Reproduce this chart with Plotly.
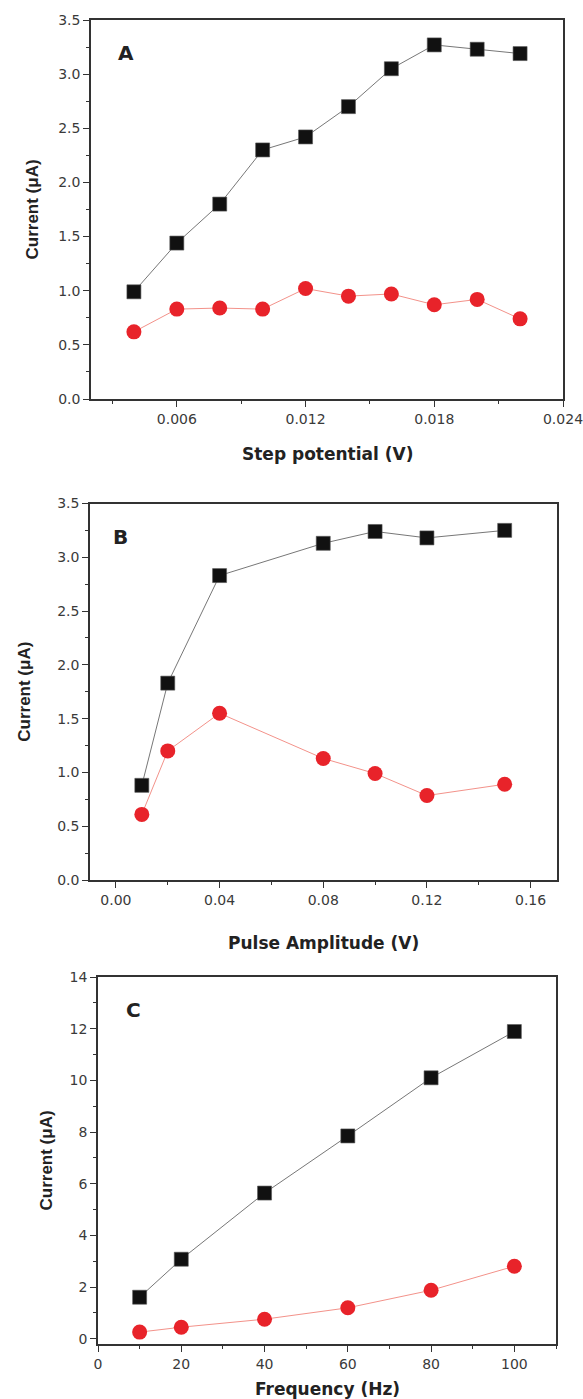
import plotly.graph_objects as go

W, H = 583, 1399

# Panel A: step potential
step_v = [0.004, 0.006, 0.008, 0.010, 0.012, 0.014, 0.016, 0.018, 0.020, 0.022]
step_black = [0.99, 1.44, 1.80, 2.30, 2.42, 2.70, 3.05, 3.27, 3.23, 3.19]
step_red = [0.62, 0.83, 0.84, 0.83, 1.02, 0.95, 0.97, 0.87, 0.92, 0.74]

# Panel B: pulse amplitude
amp_v = [0.01, 0.02, 0.04, 0.08, 0.10, 0.12, 0.15]
amp_black = [0.88, 1.83, 2.83, 3.13, 3.24, 3.18, 3.25]
amp_red = [0.61, 1.20, 1.55, 1.13, 0.99, 0.785, 0.89]

# Panel C: frequency
freq_hz = [10, 20, 40, 60, 80, 100]
freq_black = [1.61, 3.08, 5.64, 7.85, 10.10, 11.89]
freq_red = [0.26, 0.45, 0.76, 1.20, 1.88, 2.81]

panel_labels = ["A", "B", "C"]
x_titles = ["Step potential (V)", "Pulse Amplitude (V)", "Frequency (Hz)"]
y_title = "Current (\u03bcA)"

FONT = "Arial, Liberation Sans, Helvetica, sans-serif"
WIDEFONT = "DejaVu Sans, Verdana, sans-serif"
AX = "#333333"
TXT = "#3a3a3a"

# pixel boxes: (left, right, top, bottom)
boxes = [(91, 563, 20, 399), (90, 556.5, 503.5, 880), (98, 556, 977, 1344)]

def xd(l, r):
    return [l / W, r / W]

def yd(t, b):
    return [1 - b / H, 1 - t / H]

fig = go.Figure()

series = [
    (step_v, step_black, step_red),
    (amp_v, amp_black, amp_red),
    (freq_hz, freq_black, freq_red),
]

for i, (xs, yb, yr) in enumerate(series):
    xa = "x" if i == 0 else f"x{i+1}"
    ya = "y" if i == 0 else f"y{i+1}"
    fig.add_trace(go.Scatter(
        x=xs, y=yb, xaxis=xa, yaxis=ya, mode="lines+markers",
        line=dict(color="#777777", width=1),
        marker=dict(symbol="square", size=14, color="#111111",
                    line=dict(color="#555555", width=0.6)),
        showlegend=False, cliponaxis=False))
    fig.add_trace(go.Scatter(
        x=xs, y=yr, xaxis=xa, yaxis=ya, mode="lines+markers",
        line=dict(color="#f3928a", width=1),
        marker=dict(symbol="circle", size=15, color="#e8232a",
                    line=dict(color="#e8232a", width=0)),
        showlegend=False, cliponaxis=False))

x_ranges = [[0.002, 0.024], [-0.01, 0.17], [0, 110]]
x_dticks = [0.006, 0.04, 20]
x_minor = [0.003, 0.02, 10]
x_fmt = [".3f", ".2f", "d"]
y_ranges = [[0, 3.5], [0, 3.5], [-0.2, 14]]
y_dticks = [0.5, 0.5, 2]
y_minor = [0.25, 0.25, 1]
y_fmt = [".1f", ".1f", "d"]

common = dict(showline=True, linecolor=AX, linewidth=1.6, mirror=True,
              ticks="outside", ticklen=6, tickwidth=1.2, tickcolor=AX,
              showgrid=False, zeroline=False, automargin=False,
              ticklabeloverflow="allow",
              tickfont=dict(family=WIDEFONT, size=14, color=TXT))

layout = {}
annotations = []
for i, (l, r, t, b) in enumerate(boxes):
    sx = "" if i == 0 else str(i + 1)
    layout[f"xaxis{sx}"] = dict(
        domain=xd(l, r), anchor=f"y{sx}", range=x_ranges[i],
        tick0=0, dtick=x_dticks[i], tickformat=x_fmt[i],
        minor=dict(ticks="outside", ticklen=3.5, tickwidth=1.2, tickcolor=AX,
                   tick0=0, dtick=x_minor[i], showgrid=False),
        **common)
    layout[f"yaxis{sx}"] = dict(
        domain=yd(t, b), anchor=f"x{sx}", range=y_ranges[i],
        tick0=0, dtick=y_dticks[i], tickformat=y_fmt[i],
        minor=dict(ticks="outside", ticklen=3.5, tickwidth=1.2, tickcolor=AX,
                   tick0=0, dtick=y_minor[i], showgrid=False),
        **common)
    # panel letter
    annotations.append(dict(
        text=f"<b>{panel_labels[i]}</b>", xref="paper", yref="paper",
        x=(l + [35, 30, 35][i]) / W, y=1 - (t + [33, 33, 33][i]) / H,
        xanchor="center", yanchor="middle", showarrow=False,
        font=dict(family=WIDEFONT, size=20, color="#222222")))
    # x title
    annotations.append(dict(
        text=f"<b>{x_titles[i]}</b>", xref="paper", yref="paper",
        x=(l + r) / 2 / W, y=1 - (b + [55, 63, 45][i]) / H,
        xanchor="center", yanchor="middle", showarrow=False,
        font=dict(family=WIDEFONT, size=17, color="#222222")))
    # y title
    annotations.append(dict(
        text=f"<b>{y_title}</b>", xref="paper", yref="paper",
        x=[32, 25, 46][i] / W, y=1 - ((t + b) / 2) / H,
        xanchor="center", yanchor="middle", textangle=-90, showarrow=False,
        font=dict(family=FONT, size=17, color="#222222")))

fig.update_layout(
    width=W, height=H,
    margin=dict(l=0, r=0, t=0, b=0),
    paper_bgcolor="white", plot_bgcolor="white",
    annotations=annotations,
    **layout)

fig.write_html("out.html")
